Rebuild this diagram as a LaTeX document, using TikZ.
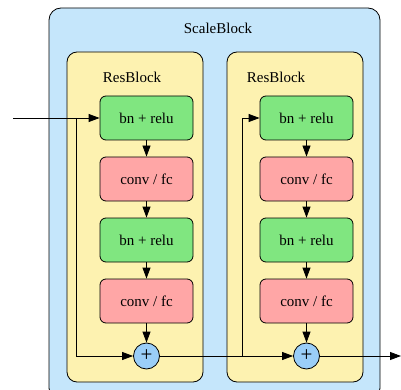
\documentclass[tikz,border=0pt]{standalone}
\usepackage{fontspec}
\setmainfont{Liberation Serif}
\usetikzlibrary{arrows.meta}

\definecolor{scalebg}{RGB}{197,230,251}
\definecolor{resbg}{RGB}{253,242,176}
\definecolor{bngreen}{RGB}{128,230,128}
\definecolor{convred}{RGB}{255,166,166}
\definecolor{addblue}{RGB}{154,206,248}

\tikzset{
	layer/.style={draw,rounded corners=6pt,minimum width=93pt,minimum height=44pt,font=\fontsize{15}{18}\selectfont,line width=0.8pt},
	bnbox/.style={layer,fill=bngreen},
	convbox/.style={layer,fill=convred},
	addnode/.style={draw,circle,fill=addblue,minimum size=26pt,inner sep=0pt,font=\fontsize{21}{24}\selectfont,line width=0.8pt},
	flow/.style={-{Triangle[length=11pt,width=8pt]},line width=0.8pt},
	title/.style={font=\fontsize{15}{18}\selectfont}
}

\begin{document}
		\begin{tikzpicture}[x=1pt,y=1pt]
			\useasboundingbox (0,0) rectangle (401,-390);
			\begin{scope}
				\clip (0,0) rectangle (401,-390);
				\draw[fill=scalebg,rounded corners=12pt,line width=0.8pt] (49,-8) rectangle (380,-400);
			\end{scope}
			\draw[fill=resbg,rounded corners=10pt,line width=0.8pt] (67,-52) rectangle (203,-382);
			\draw[fill=resbg,rounded corners=10pt,line width=0.8pt] (227,-52) rectangle (363,-382);
			\node[title] (scale) at (218,-28) {ScaleBlock};
			\node[title] (res1) at (132,-77) {ResBlock};
			\node[title] (res2) at (276,-77) {ResBlock};
			\node[bnbox] (bn11) at (146.5,-118) {bn + relu};
			\node[convbox] (cv11) at (146.5,-179) {conv / fc};
			\node[bnbox] (bn12) at (146.5,-240) {bn + relu};
			\node[convbox] (cv12) at (146.5,-301) {conv / fc};
			\node[addnode] (add1) at (146.5,-356) {+};
			\node[bnbox] (bn21) at (306.5,-118) {bn + relu};
			\node[convbox] (cv21) at (306.5,-179) {conv / fc};
			\node[bnbox] (bn22) at (306.5,-240) {bn + relu};
			\node[convbox] (cv22) at (306.5,-301) {conv / fc};
			\node[addnode] (add2) at (306.5,-356) {+};
			\coordinate (in) at (13,-118);
			\coordinate (skip1) at (76,-118);
			\coordinate (skip2) at (242,-356);
			\coordinate (out) at (401,-356);
			\draw[flow] (in) -- (bn11);
			\draw[flow] (bn11) -- (cv11);
			\draw[flow] (cv11) -- (bn12);
			\draw[flow] (bn12) -- (cv12);
			\draw[flow] (cv12) -- (add1);
			\draw[flow] (skip1) |- (add1);
			\draw[flow] (add1) -- (add2);
			\draw[flow] (skip2) |- (bn21);
			\draw[flow] (bn21) -- (cv21);
			\draw[flow] (cv21) -- (bn22);
			\draw[flow] (bn22) -- (cv22);
			\draw[flow] (cv22) -- (add2);
			\draw[flow] (add2) -- (out);
		\end{tikzpicture}
\end{document}
